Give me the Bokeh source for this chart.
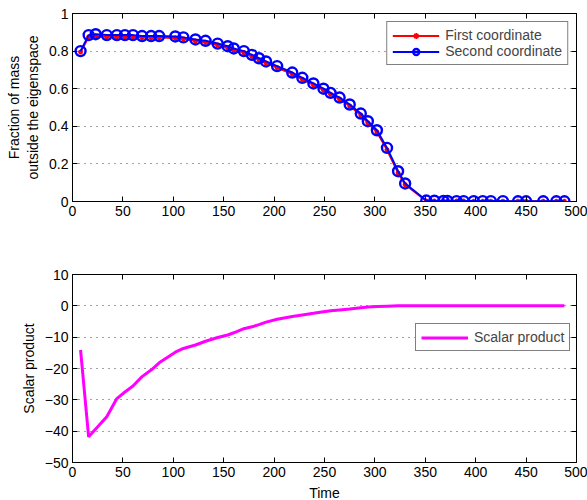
from bokeh.plotting import figure
from bokeh.layouts import column
from bokeh.models import LinearAxis, FixedTicker, Legend, LegendItem, Range1d
from bokeh.embed import file_html
from bokeh.resources import INLINE

time = [8, 16, 23, 34, 44, 52, 60, 69, 78, 86, 102, 110, 122, 132, 144, 154, 160,
        170, 178, 185, 192, 203, 218, 228, 239, 249, 256, 265, 275, 286, 293, 302,
        312, 323, 330, 351, 359, 368, 372, 381, 388, 398, 407, 415, 427, 442, 450,
        467, 480, 488]
second_coord = [0.80, 0.885, 0.89, 0.885, 0.885, 0.885, 0.885, 0.88, 0.88, 0.88,
                0.878, 0.873, 0.862, 0.855, 0.84, 0.826, 0.814, 0.80, 0.78, 0.762,
                0.745, 0.72, 0.686, 0.658, 0.628, 0.60, 0.578, 0.553, 0.516, 0.468,
                0.427, 0.379, 0.285, 0.161, 0.096, 0.005, 0.004, 0.003, 0.003, 0.002,
                0.002, 0.002, 0.002, 0.002, 0.002, 0.001, 0.001, 0.001, 0.001, 0.001]
first_coord = [0.795, 0.875, 0.88, 0.876, 0.876, 0.876, 0.876, 0.872, 0.872, 0.872,
               0.870, 0.865, 0.854, 0.847, 0.832, 0.818, 0.806, 0.792, 0.772, 0.754,
               0.737, 0.712, 0.678, 0.650, 0.620, 0.592, 0.570, 0.545, 0.508, 0.460,
               0.419, 0.370, 0.275, 0.152, 0.090, 0.003, 0.003, 0.002, 0.002, 0.002,
               0.002, 0.001, 0.001, 0.001, 0.001, 0.001, 0.001, 0.001, 0.001, 0.001]
scalar_product = [-14.1, -41.8, -39.3, -35.4, -29.6, -27.5, -25.6, -22.6, -20.5, -18.2,
                  -14.8, -13.6, -12.5, -11.3, -10.1, -9.3, -8.6, -7.3, -6.7, -6.0,
                  -5.2, -4.3, -3.4, -2.9, -2.4, -1.9, -1.6, -1.3, -1.0, -0.6,
                  -0.4, -0.2, -0.1, 0.0, 0.0, 0.0, 0.0, 0.0, 0.0, 0.0,
                  0.0, 0.0, 0.0, 0.0, 0.0, 0.0, 0.0, 0.0, 0.0, 0.0]

x_ticks = [0, 50, 100, 150, 200, 250, 300, 350, 400, 450, 500]
top_ticks = [0, 0.2, 0.4, 0.6, 0.8, 1]
bot_ticks = [-50, -40, -30, -20, -10, 0, 10]

FONT = "Liberation Sans"
FS = "14px"


def style(p, yticks, overrides=None):
    p.outline_line_color = "black"
    p.outline_line_width = 1
    p.xgrid.visible = False
    p.ygrid.ticker = FixedTicker(ticks=yticks)
    p.ygrid.grid_line_color = "#444444"
    p.ygrid.grid_line_dash = "1 5"
    p.ygrid.grid_line_width = 1
    for ax in p.xaxis + p.yaxis:
        ax.major_tick_in = 5
        ax.major_tick_out = 0
        ax.minor_tick_line_color = None
        ax.axis_line_color = "black"
        ax.major_label_text_font = FONT
        ax.major_label_text_font_size = FS
        ax.major_label_text_color = "black"
        ax.axis_label_text_font = FONT
        ax.axis_label_text_font_size = "14px"
        ax.axis_label_text_font_style = "normal"
        ax.axis_label_text_color = "black"
        ax.major_label_standoff = 4
    p.xaxis.ticker = FixedTicker(ticks=x_ticks)
    p.yaxis.ticker = FixedTicker(ticks=yticks)
    if overrides:
        p.yaxis.major_label_overrides = overrides
    # mirror ticks on right and top
    r = LinearAxis(ticker=FixedTicker(ticks=yticks), major_tick_in=5, major_tick_out=0,
                   minor_tick_line_color=None, major_label_text_color=None,
                   major_label_text_font_size="1px", major_label_standoff=0,
                   axis_line_color="black")
    t = LinearAxis(ticker=FixedTicker(ticks=x_ticks), major_tick_in=5, major_tick_out=0,
                   minor_tick_line_color=None, major_label_text_color=None,
                   major_label_text_font_size="1px", major_label_standoff=0,
                   axis_line_color="black")
    p.add_layout(r, "right")
    p.add_layout(t, "above")


p1 = figure(frame_width=504, frame_height=188, output_backend="svg", toolbar_location=None,
            x_range=Range1d(0, 500), y_range=Range1d(0, 1),
            min_border_left=72, min_border_right=11, min_border_top=13, min_border_bottom=38)
p1.yaxis.axis_label = "Fraction of mass\noutside the eigenspace"
style(p1, top_ticks, {0: "0", 1: "1"})

r1l = p1.line(time, first_coord, line_color="red", line_width=2)
r1m = p1.scatter(time, first_coord, marker="asterisk", size=5, line_color="red", line_width=1.5)
r2l = p1.line(time, second_coord, line_color="blue", line_width=2)
r2m = p1.scatter(time, second_coord, marker="circle", size=10, line_color="blue",
                 line_width=2.4, fill_color=None)
leg1 = Legend(items=[LegendItem(label="First coordinate", renderers=[r1l, r1m]),
                     LegendItem(label="Second coordinate", renderers=[r2l, r2m])],
              location="top_right", border_line_color="black", border_line_width=1,
              label_text_font=FONT, label_text_font_size=FS, glyph_width=47,
              glyph_height=15, spacing=0, padding=5, margin=8, label_standoff=6,
              label_height=15)
p1.add_layout(leg1)

p2 = figure(frame_width=504, frame_height=188, output_backend="svg", toolbar_location=None,
            x_range=Range1d(0, 500), y_range=Range1d(-50, 10),
            min_border_left=72, min_border_right=11, min_border_top=35, min_border_bottom=2)
p2.yaxis.axis_label = "Scalar product"
p2.xaxis.axis_label = "Time"
style(p2, bot_ticks, {-50: "\u221250", -40: "\u221240", -30: "\u221230", -20: "\u221220",
                      -10: "\u221210", 0: "0", 10: "10"})
p2.xaxis[0].axis_label_standoff = 0
p2.xaxis[0].major_label_standoff = 2
r3 = p2.line(time, scalar_product, line_color="magenta", line_width=3)
leg2 = Legend(items=[LegendItem(label="Scalar product", renderers=[r3])],
              location=(343, 111), border_line_color="black", border_line_width=1,
              label_text_font=FONT, label_text_font_size=FS, glyph_width=47,
              glyph_height=15, padding=5, label_standoff=6, label_height=15)
p2.add_layout(leg2)

layout = column(p1, p2, spacing=0)
open("out.html", "w").write(file_html(layout, INLINE))
